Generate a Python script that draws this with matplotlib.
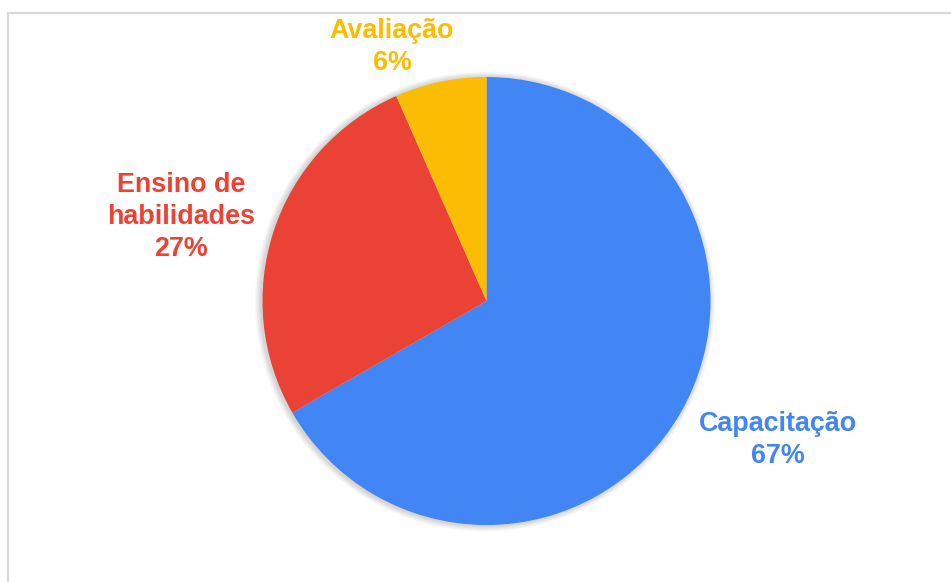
import matplotlib
matplotlib.use("Agg")
import matplotlib.pyplot as plt
from matplotlib.patches import Rectangle, Circle

labels = ["Capacitação", "Ensino de\nhabilidades", "Avaliação"]
values = [66.7, 26.7, 6.6]
pct_labels = ["67%", "27%", "6%"]
colors = ["#4285F4", "#EA4335", "#FBBC04"]

W, H = 951, 582
fig = plt.figure(figsize=(W / 100, H / 100), dpi=100)
plt.rcParams['font.family'] = ['Liberation Sans', 'DejaVu Sans']

# outer frame (right and bottom edges cut by the image)
fig.patches.append(Rectangle((7.5 / W, -0.1), 1.2, (H - 12.5) / H + 0.1,
                             transform=fig.transFigure, fill=False,
                             edgecolor="#d9d9d9", linewidth=1.6))

ax = fig.add_axes([0, 0, 1, 1])
cx, cy, r = 486.5, H - 301, 224

# soft shadow behind the pie
for k in range(1, 7):
    ax.add_patch(Circle((cx - 1.5, cy - 0.5), r + k, color="black",
                        alpha=0.028, linewidth=0, zorder=0))

ax.pie(values, colors=colors, startangle=90, counterclock=False,
       center=(cx, cy), radius=r, frame=True,
       wedgeprops=dict(linewidth=0, zorder=2))
ax.set_xlim(0, W)
ax.set_ylim(0, H)
ax.set_aspect("equal")
ax.axis("off")

pos = [(778, 440), (181, 217), (392, 47.5)]
for lab, p, c, (x, y) in zip(labels, pct_labels, colors, pos):
    ax.text(x, H - y, f"{lab}\n{p}", color=c, fontsize=19.4,
            fontweight="bold", ha="center", va="center",
            multialignment="center", linespacing=1.3)

fig.savefig("out.png", dpi=100)
